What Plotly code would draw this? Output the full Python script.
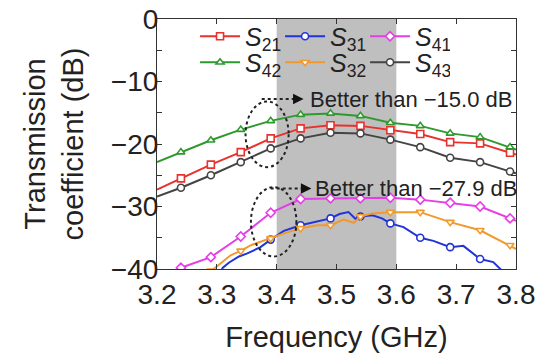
import plotly.graph_objects as go

# ---------------- data ----------------
freq = [3.20, 3.24, 3.29, 3.34, 3.39, 3.44, 3.49, 3.54, 3.59, 3.64, 3.69, 3.74, 3.79, 3.80]
s42 = [-22.9, -21.3, -19.4, -17.7, -16.3, -15.3, -15.1, -15.5, -16.6, -17.1, -18.3, -18.9, -20.5, -20.9]
s21 = [-27.3, -25.5, -23.3, -21.3, -19.1, -17.5, -17.0, -17.1, -17.8, -18.4, -19.7, -19.9, -21.4, -21.7]
s43 = [-28.4, -27.0, -25.0, -22.9, -20.7, -19.1, -18.2, -18.3, -19.3, -20.5, -22.2, -22.9, -24.4, -24.7]
s41 = [-41.5, -39.8, -38.1, -34.8, -31.0, -28.8, -28.7, -28.7, -28.6, -28.9, -29.4, -30.0, -31.9, -32.3]

freq31 = [3.30, 3.31, 3.32, 3.337, 3.351, 3.373, 3.39, 3.412, 3.44, 3.465, 3.49, 3.505, 3.52,
          3.532, 3.54, 3.56, 3.576, 3.59, 3.612, 3.64, 3.662, 3.69, 3.712, 3.74, 3.762, 3.776, 3.79]
s31 = [-41.5, -39.8, -39.0, -38.0, -37.5, -36.5, -35.3, -33.9, -33.0, -32.5, -31.9, -31.2, -30.9,
       -32.0, -31.6, -31.4, -31.9, -32.7, -33.3, -35.0, -35.5, -36.5, -36.3, -38.4, -38.9, -40.2, -41.5]

freq32 = [3.29, 3.30, 3.323, 3.34, 3.357, 3.39, 3.412, 3.44, 3.468, 3.49, 3.512, 3.529, 3.54,
          3.56, 3.59, 3.64, 3.69, 3.74, 3.79, 3.80]
s32 = [-40.3, -39.6, -37.8, -37.1, -36.2, -35.1, -34.3, -33.5, -33.0, -33.0, -32.1, -32.6, -31.6,
       -31.1, -30.9, -30.9, -32.5, -33.8, -36.2, -36.8]

x_ticks = [3.2, 3.3, 3.4, 3.5, 3.6, 3.7, 3.8]
y_ticks = [-40, -35, -30, -25, -20, -15, -10, -5, 0]
y_ticktext = ["\u221240", "", "\u221230", "", "\u221220", "", "\u221210", "", "0"]

band = [3.4, 3.6]
note_hi = "Better than \u221215.0 dB"
note_lo = "Better than \u221227.9 dB"

FONT = "Liberation Sans, Arial, sans-serif"


def marker_idx(fs):
    """indices of the samples that carry a marker (every 0.05 GHz from 3.24)"""
    out = []
    for i, f in enumerate(fs):
        k = (f - 3.24) / 0.05
        if abs(k - round(k)) < 0.02 and 3.23 < f < 3.795:
            out.append(i)
    return out


series = [
    ("<i>S</i><sub>21</sub>", freq, s21, "#e8322d", "square", "legend"),
    ("<i>S</i><sub>31</sub>", freq31, s31, "#2233d8", "circle", "legend"),
    ("<i>S</i><sub>41</sub>", freq, s41, "#e63ee6", "diamond", "legend"),
    ("<i>S</i><sub>42</sub>", freq, s42, "#2e9a2e", "triangle-up", "legend2"),
    ("<i>S</i><sub>32</sub>", freq32, s32, "#f2992e", "triangle-down", "legend2"),
    ("<i>S</i><sub>43</sub>", freq, s43, "#444444", "circle", "legend2"),
]

fig = go.Figure()
for name, xs, ys, col, sym, leg in series:
    fig.add_trace(go.Scatter(
        x=xs, y=ys, name=name, mode="lines+markers", legend=leg,
        line=dict(color=col, width=2),
        marker=dict(symbol=sym, size=7, color="white", line=dict(color=col, width=1.6)),
        selectedpoints=marker_idx(xs),
        selected=dict(marker=dict(opacity=1)),
        unselected=dict(marker=dict(opacity=0)),
    ))

# shaded band
fig.add_shape(type="rect", xref="x", yref="paper", x0=band[0], x1=band[1], y0=0, y1=1,
              fillcolor="#bfbfbf", line=dict(width=0), layer="below")

# dotted ellipses and arrows
fig.add_shape(type="circle", xref="x", yref="y", x0=3.348, x1=3.42, y0=-23.7, y1=-13.2,
              line=dict(color="#222", width=2, dash="dot"))
fig.add_shape(type="circle", xref="x", yref="y", x0=3.357, x1=3.433, y0=-38.0, y1=-26.9,
              line=dict(color="#222", width=2, dash="dot"))
fig.add_shape(type="line", xref="x", yref="y", x0=3.375, x1=3.432, y0=-12.8, y1=-12.8,
              line=dict(color="#222", width=2, dash="dot"))
fig.add_shape(type="line", xref="x", yref="y", x0=3.39, x1=3.445, y0=-27.1, y1=-27.1,
              line=dict(color="#222", width=2, dash="dot"))

fig.add_annotation(x=3.445, y=-12.8, xref="x", yref="y", ax=-10, ay=0, text="",
                   showarrow=True, arrowhead=2, arrowsize=1.4, arrowwidth=1.5, arrowcolor="#111")
fig.add_annotation(x=3.458, y=-27.1, xref="x", yref="y", ax=-10, ay=0, text="",
                   showarrow=True, arrowhead=2, arrowsize=1.4, arrowwidth=1.5, arrowcolor="#111")

fig.add_annotation(x=3.452, y=-12.8, xref="x", yref="y", text=note_hi, showarrow=False,
                   xanchor="left", yanchor="middle", font=dict(size=22, color="#222", family=FONT))
fig.add_annotation(x=3.461, y=-27.1, xref="x", yref="y", text=note_lo, showarrow=False,
                   xanchor="left", yanchor="middle", font=dict(size=22, color="#222", family=FONT))

axis_common = dict(showline=True, linecolor="#333", linewidth=1.2, mirror="ticks",
                   ticks="inside", ticklen=5, tickcolor="#333", showgrid=False, zeroline=False,
                   ticklabeloverflow="allow",
                   tickfont=dict(size=28, color="#222", family=FONT))

fig.update_xaxes(range=[3.2, 3.8], tickvals=x_ticks, ticktext=[f"{v:.1f}" for v in x_ticks],
                 title=dict(text="Frequency (GHz)", font=dict(size=29, color="#222", family=FONT),
                            standoff=17),
                 **axis_common)
fig.update_yaxes(range=[-40, 0], tickvals=y_ticks, ticktext=y_ticktext, ticklabelstandoff=-8,
                 title=dict(text="Transmission<br>coefficient (dB)",
                            font=dict(size=29, color="#222", family=FONT), standoff=18),
                 **axis_common)

leg_common = dict(orientation="h", xanchor="left", yanchor="middle", bgcolor="rgba(0,0,0,0)",
                  font=dict(size=25, color="#222", family=FONT), entrywidth=30,
                  entrywidthmode="pixels", itemwidth=40, tracegroupgap=0)

# page body keeps an 8px margin, so the figure is 8px smaller than the window
fig.update_layout(
    width=547, height=351,
    margin=dict(l=149, r=39, t=11, b=90, autoexpand=False),
    paper_bgcolor="white", plot_bgcolor="white",
    font=dict(family=FONT, color="#222"),
    legend=dict(x=0.106, y=0.93, **leg_common),
    legend2=dict(x=0.106, y=0.826, **leg_common),
)

fig.write_html("out.html")
